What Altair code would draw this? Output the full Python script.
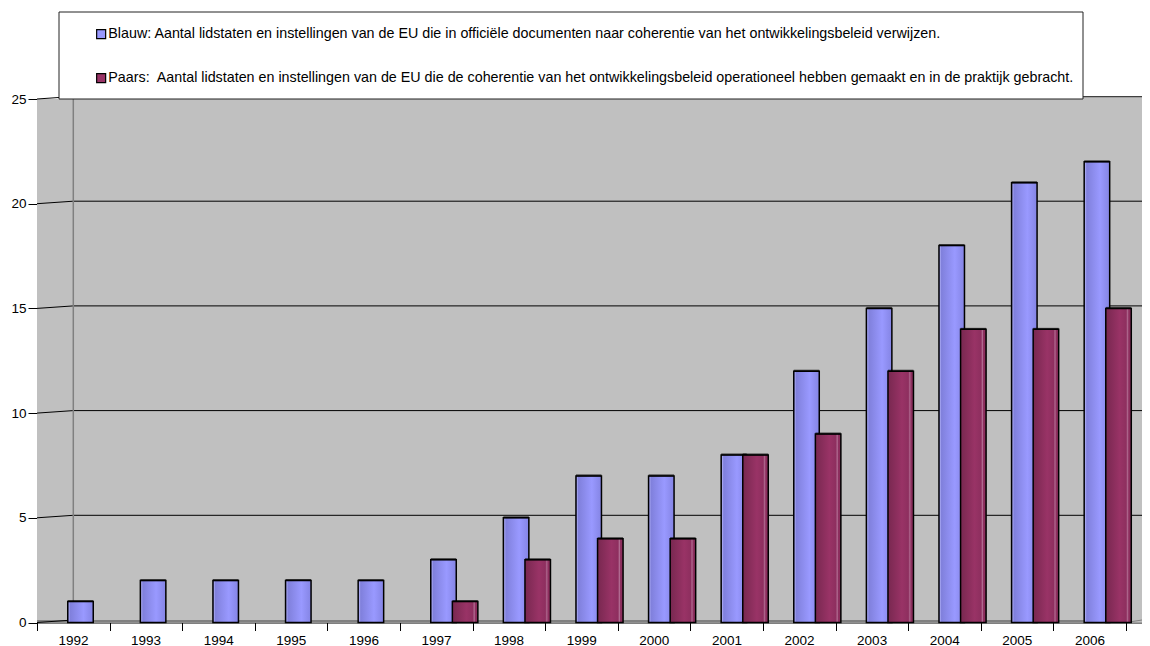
import altair as alt
import pandas as pd

years = list(range(1992, 2007))
blue = [1, 2, 2, 2, 2, 3, 5, 7, 7, 8, 12, 15, 18, 21, 22]
red_years = list(range(1997, 2007))
red = [1, 3, 4, 4, 8, 9, 12, 14, 14, 15]
y_ticks = [0, 5, 10, 15, 20, 25]
x_ticks = [y - 0.5 for y in years] + [2006.5]
label_blue = "Blauw: Aantal lidstaten en instellingen van de EU die in officiële documenten naar coherentie van het ontwikkelingsbeleid verwijzen."
label_red = "Paars:\u00a0 Aantal lidstaten en instellingen van de EU die de coherentie van het ontwikkelingsbeleid operationeel hebben gemaakt en in de praktijk gebracht."
FONT = "Liberation Sans"
X0, X_BACK, X_FRONT_END, X_END = 1991.5, 1992.0, 2006.5, 2006.72

df_blue = pd.DataFrame({"year": years, "value": blue})
df_red = pd.DataFrame({"year": red_years, "value": red})
df_grid = pd.DataFrame({"v": y_ticks, "a": X0, "b": X_BACK, "c": X_END})
df_wall = pd.DataFrame({"a": [X0], "b": [X_BACK], "c": [X_END], "d": [X_FRONT_END], "lo": [0], "hi": [25]})
df_leg = pd.DataFrame({"year": [1992, 1992], "value": [0, 0], "series": [label_blue, label_red]})

xs = alt.Scale(domain=[X0, X_END], nice=False, zero=False, padding=0)
ys = alt.Scale(domain=[0, 25], nice=False, padding=0)
X = alt.X("year:Q", scale=xs, title=None)
Y = alt.Y("value:Q", scale=ys, title=None)


def grad(stops):
    return alt.Gradient(gradient="linear", x1=0, x2=1, y1=0, y2=0,
                        stops=[alt.GradientStop(offset=o, color=c) for o, c in stops])


blue_grad = grad([(0, "#7b7bd8"), (0.05, "#a5a5f0"), (0.1, "#8080dc"), (0.62, "#9999ff"), (1, "#8484e4")])
red_grad = grad([(0, "#782850"), (0.55, "#993366"), (0.8, "#8e2f5f"), (0.86, "#b06a90"), (0.9, "#8e2f5f"), (1, "#8a2e5c")])

side = alt.Chart(df_wall).mark_rect(color="#c0c0c0").encode(
    x=alt.X("a:Q", scale=xs,
            axis=alt.Axis(values=x_ticks, title=None, grid=False, domain=True, domainColor="#000000",
                          tickColor="#000000", tickSize=8, labelFont=FONT, labelFontSize=13.5,
                          labelColor="#000000", labelPadding=3, labelOffset=36, labelAngle=0,
                          labelFlush=False, labelOverlap=False,
                          labelExpr="datum.value < 2006 ? toString(datum.value + 0.5) : ''")),
    x2="b:Q",
    y=alt.Y("lo:Q", scale=ys,
            axis=alt.Axis(values=y_ticks, title=None, grid=False, domain=True, domainColor="#000000",
                          tickColor="#000000", tickSize=9, labelFont=FONT, labelFontSize=13.5,
                          labelColor="#000000", labelPadding=2)),
    y2="hi:Q")
back = alt.Chart(df_wall).mark_rect(color="#c0c0c0", y2Offset=-2).encode(
    x=alt.X("b:Q", scale=xs), x2="c:Q", y=alt.Y("lo:Q", scale=ys), y2="hi:Q")
floor = alt.Chart(df_wall).mark_rect(color="#808080", yOffset=-2.5, y2Offset=0).encode(
    x=alt.X("a:Q", scale=xs), x2="d:Q", y=alt.Y("lo:Q", scale=ys), y2=alt.Y2("lo:Q"))
grid = alt.Chart(df_grid[df_grid.v > 0]).mark_rule(color="#000000", strokeWidth=1, yOffset=-2.5, y2Offset=-2.5).encode(
    x=alt.X("b:Q", scale=xs), x2="c:Q", y=alt.Y("v:Q", scale=ys))
slant = alt.Chart(df_grid).mark_rule(color="#000000", strokeWidth=1, y2Offset=-2.5).encode(
    x=alt.X("a:Q", scale=xs), x2="b:Q", y=alt.Y("v:Q", scale=ys), y2="v:Q")
wall_line = alt.Chart(df_wall).mark_rule(color="#808080", strokeWidth=1.5, yOffset=-2).encode(
    x=alt.X("b:Q", scale=xs), y=alt.Y("lo:Q", scale=ys), y2="hi:Q")
top_line = alt.Chart(df_wall).mark_rule(color="#808080", strokeWidth=1, yOffset=-2, y2Offset=-2).encode(
    x=alt.X("b:Q", scale=xs), x2="c:Q", y=alt.Y("hi:Q", scale=ys))
right_floor = alt.Chart(df_wall).mark_rule(color="#808080", strokeWidth=1, y2Offset=-2.5).encode(
    x=alt.X("d:Q", scale=xs), x2="c:Q", y=alt.Y("lo:Q", scale=ys), y2="lo:Q")

# legend frame
box = alt.Chart(df_wall).mark_rect(fill="#ffffff", stroke="#222222", strokeWidth=1).encode(
    x=alt.value(22), x2=alt.value(1046), y=alt.value(-87), y2=alt.value(0))

leg = alt.Chart(df_leg).mark_square(opacity=0, size=1).encode(
    x=X, y=Y,
    color=alt.Color("series:N",
                    scale=alt.Scale(domain=[label_blue, label_red], range=["#9999ff", "#993366"]),
                    legend=alt.Legend(orient="none", legendX=57, legendY=-72, title=None,
                                      symbolType="square", symbolSize=81, symbolOpacity=1,
                                      symbolStrokeColor="#000000", symbolStrokeWidth=1.2,
                                      labelFont=FONT, labelFontSize=14.3, labelColor="#000000",
                                      labelLimit=1100, rowPadding=29, labelOffset=0,
                                      padding=0, offset=0)))


def bars(df, fill, dx, w):
    bar = alt.Chart(df).mark_bar(fill=fill, stroke="#000000", strokeWidth=1.5, size=w, xOffset=dx,
                                 orient="vertical").encode(x=X, y=Y)
    cap = alt.Chart(df).mark_tick(color="#000000", thickness=2, size=w, xOffset=dx, yOffset=-0.5,
                                  orient="horizontal").encode(x=X, y=Y)
    return bar + cap


chart = alt.layer(
    side, back, floor, grid, slant, top_line, right_floor, wall_line,
    bars(df_blue, blue_grad, 7.2, 25.5), bars(df_red, red_grad, 28.8, 25.5),
    box, leg,
).properties(
    width=1105, height=523.5,
    autosize=alt.AutoSizeParams(type="none"),
    padding={"left": 29, "top": 91, "right": 0, "bottom": 27},
).configure_view(stroke=None).configure_axis(grid=False).configure_legend(
    padding=0).resolve_scale(color="independent")

chart.save("out.html", embed_options={"renderer": "svg", "actions": False})
